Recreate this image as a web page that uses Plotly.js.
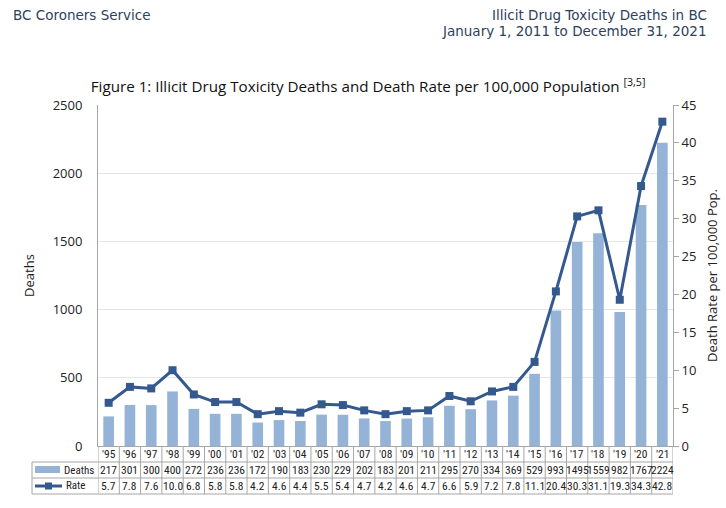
<!DOCTYPE html>
<html>
<head>
<meta charset="utf-8">
<script src="https://cdn.plot.ly/plotly-3.0.1.min.js"></script>
<style>
html,body{margin:0;padding:0;background:#fff;}
#chart{width:726px;height:508px;}
</style>
</head>
<body>
<div id="chart"></div>
<script>
const years = ["'95","'96","'97","'98","'99","'00","'01","'02","'03","'04","'05","'06","'07","'08","'09","'10","'11","'12","'13","'14","'15","'16","'17","'18","'19","'20","'21"];
const deaths = [217,301,300,400,272,236,236,172,190,183,230,229,202,183,201,211,295,270,334,369,529,993,1495,1559,982,1767,2224];
const rates = [5.7,7.8,7.6,10.0,6.8,5.8,5.8,4.2,4.6,4.4,5.5,5.4,4.7,4.2,4.6,4.7,6.6,5.9,7.2,7.8,11.1,20.4,30.3,31.1,19.3,34.3,42.8];
const rateLabels = rates.map(r => r.toFixed(1));

const idx = years.map((_, i) => i);
const barColor = '#95b3d7';
const lineColor = '#33598f';
const gridBorder = '#a6a6a6';
const tableFont = {family:'Liberation Sans Narrow, Roboto Condensed, Roboto, sans-serif', size:11.5, color:'#222'};
const legendFont = {family:'Liberation Sans Narrow, Roboto Condensed, Roboto, sans-serif', size:11, color:'#222'};

const plotTop = 105, plotBottom = 446, plotH = plotBottom - plotTop;
const plotLeft = 98, plotRight = 673, plotW = plotRight - plotLeft;
const py = px => (plotBottom - px) / plotH;
const pxX = px => (px - plotLeft) / plotW;

const traces = [
  {type:'bar', x: idx, y: deaths, marker:{color: barColor}, name:'Deaths', yaxis:'y'},
  {type:'scatter', mode:'lines+markers', x: idx, y: rates, yaxis:'y2', name:'Rate',
   line:{color: lineColor, width:3}, marker:{symbol:'square', size:8, color: lineColor}}
];

const shapes = [];
const annotations = [];
const n = years.length;
[462, 478, 494].forEach(yy => {
  shapes.push({type:'line', xref:'paper', yref:'paper', x0:pxX(32), x1:1, y0:py(yy), y1:py(yy), line:{color:gridBorder, width:1}});
});
shapes.push({type:'line', xref:'paper', yref:'paper', x0:pxX(32), x1:pxX(32), y0:py(462), y1:py(494), line:{color:gridBorder, width:1}});
for (let i = 0; i <= n; i++) {
  shapes.push({type:'line', xref:'x', yref:'paper', x0:i-0.5, x1:i-0.5, y0:py(446), y1:py(494), line:{color:gridBorder, width:1}});
}
shapes.push({type:'rect', xref:'paper', yref:'paper', x0:pxX(35), x1:pxX(60), y0:py(473), y1:py(466), fillcolor:barColor, line:{width:0}});
shapes.push({type:'line', xref:'paper', yref:'paper', x0:pxX(35), x1:pxX(62), y0:py(486), y1:py(486), line:{color:lineColor, width:3}});
shapes.push({type:'rect', xref:'paper', yref:'paper', x0:pxX(45), x1:pxX(52), y0:py(489.5), y1:py(482.5), fillcolor:lineColor, line:{width:0}});
annotations.push({xref:'paper', yref:'paper', x:pxX(96), y:py(470), text:'Deaths', showarrow:false, xanchor:'right', yanchor:'middle', font:legendFont});
annotations.push({xref:'paper', yref:'paper', x:pxX(64), y:py(486), text:'Rate', showarrow:false, xanchor:'left', yanchor:'middle', font:legendFont});

idx.forEach(i => {
  annotations.push({xref:'x', yref:'paper', x:i, y:py(454), text:years[i], showarrow:false, yanchor:'middle', font:tableFont});
  annotations.push({xref:'x', yref:'paper', x:i, y:py(470), text:String(deaths[i]), showarrow:false, yanchor:'middle', font:tableFont});
  annotations.push({xref:'x', yref:'paper', x:i, y:py(486), text:rateLabels[i], showarrow:false, yanchor:'middle', font:tableFont});
});

const hdrFont = {family:'DejaVu Sans, Verdana, sans-serif', size:13.5, color:'#2e3f5c'};
annotations.push({xref:'paper', yref:'paper', x:pxX(11), y:py(15), xanchor:'left', yanchor:'middle', showarrow:false, text:'BC Coroners Service', font:hdrFont});
annotations.push({xref:'paper', yref:'paper', x:pxX(709), y:py(15), xanchor:'right', yanchor:'middle', showarrow:false, text:'Illicit Drug Toxicity Deaths in BC', font:hdrFont});
annotations.push({xref:'paper', yref:'paper', x:pxX(709), y:py(31), xanchor:'right', yanchor:'middle', showarrow:false, text:'January 1, 2011 to December 31, 2021', font:hdrFont});

const layout = {
  width:726, height:508,
  margin:{l:plotLeft, r:726-plotRight, t:plotTop, b:508-plotBottom},
  paper_bgcolor:'#fff', plot_bgcolor:'#fff',
  font:{family:'Open Sans, Noto Sans, sans-serif', size:12, color:'#222'},
  title:{text:'Figure 1: Illicit Drug Toxicity Deaths and Death Rate per 100,000 Population <sup>[3,5]</sup>',
         x:0.507, xanchor:'center', y:1-87/508, yanchor:'middle', font:{size:15.2, color:'#111'}},
  showlegend:false,
  bargap:0.5,
  xaxis:{range:[-0.5, n-0.5], tickvals: idx, showticklabels:false, showgrid:false, zeroline:false,
         showline:true, linecolor:gridBorder, ticks:'', fixedrange:true},
  yaxis:{range:[0,2500], dtick:500, showgrid:true, gridcolor:'#e6e6e6', zeroline:false, showline:true, linecolor:gridBorder,
         ticks:'', tickfont:{size:13, color:'#222'}, ticklabelstandoff:12,
         title:{text:'Deaths', font:{size:13, color:'#222'}, standoff:15}},
  yaxis2:{range:[0,45], dtick:5, overlaying:'y', side:'right', showgrid:false, zeroline:false, showline:true, linecolor:gridBorder,
          ticks:'outside', ticklen:5, tickcolor:gridBorder, tickfont:{size:13, color:'#222'},
          title:{text:'Death Rate per 100,000 Pop.', font:{size:13, color:'#222'}, standoff:12}},
  shapes: shapes,
  annotations: annotations
};

Plotly.newPlot('chart', traces, layout, {displayModeBar:false, staticPlot:true});
</script>
</body>
</html>
